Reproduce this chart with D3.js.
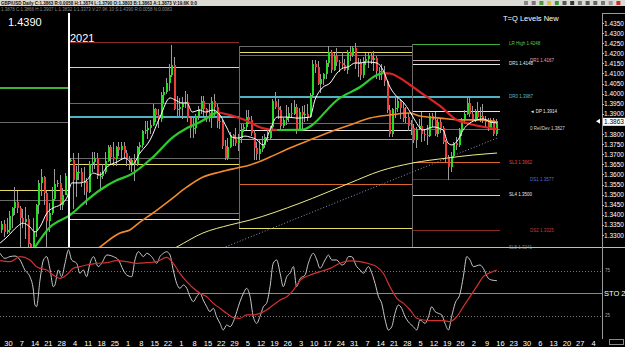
<!DOCTYPE html>
<html>
<head>
<meta charset="utf-8">
<script src="https://cdn.jsdelivr.net/npm/d3@7"></script>
<style>
  html, body { margin: 0; padding: 0; background: #000; overflow: hidden; }
  text { font-family: "Liberation Sans", Arial, sans-serif; }
</style>
</head>
<body>
<svg id="chart" width="625" height="347"></svg>
<script>
// GBP/USD daily. bar index 0 = Mon 30 Nov 2020, the first two bars are 26-27 Nov
var firstOpen = 1.3325;
var closes = [
  1.3355, 1.3315,
  1.3325, 1.3392, 1.3434, 1.3465, 1.3435,
  1.3385, 1.3365, 1.3380, 1.3255, 1.3230,
  1.3320, 1.3450, 1.3560, 1.3585, 1.3510,
  1.3370, 1.3410, 1.3480, 1.3555, 1.3560,
  1.3450, 1.3500, 1.3590, 1.3670, 1.3670,
  1.3570, 1.3610, 1.3610, 1.3560, 1.3565,
  1.3515, 1.3650, 1.3660, 1.3680, 1.3590,
  1.3590, 1.3610, 1.3665, 1.3735, 1.3685,
  1.3675, 1.3735, 1.3720, 1.3740, 1.3705,
  1.3675, 1.3650, 1.3670, 1.3650, 1.3735,
  1.3745, 1.3815, 1.3820, 1.3830, 1.3845,
  1.3925, 1.3895, 1.3875, 1.3995, 1.4010,
  1.4055, 1.4090, 1.4140, 1.3925, 1.3925,
  1.3935, 1.3955, 1.3960, 1.3880, 1.3830,
  1.3830, 1.3890, 1.3925, 1.3965, 1.3925,
  1.3905, 1.3885, 1.3965, 1.3935, 1.3865,
  1.3860, 1.3740, 1.3680, 1.3735, 1.3795,
  1.3775, 1.3755, 1.3780, 1.3825, 1.3835,
  1.3885, 1.3870, 1.3805, 1.3730, 1.3700,
  1.3725, 1.3745, 1.3785, 1.3780, 1.3835,
  1.3965, 1.3935, 1.3920, 1.3840, 1.3870,
  1.3885, 1.3905, 1.3900, 1.3935, 1.3820,
  1.3910, 1.3895, 1.3900, 1.3885, 1.3995,
  1.4145, 1.4130, 1.4050, 1.4075, 1.4095,
  1.4150, 1.4205, 1.4115, 1.4185, 1.4155,
  1.4150, 1.4140, 1.4115, 1.4205, 1.4190,
  1.4225, 1.4145, 1.4150, 1.4090, 1.4160,
  1.4170, 1.4185, 1.4165, 1.4175, 1.4110,
  1.4110, 1.4095, 1.4065, 1.3920, 1.3800,
  1.3925, 1.3930, 1.3965, 1.3930, 1.3880,
  1.3885, 1.3840, 1.3830, 1.3770, 1.3825,
  1.3840, 1.3800, 1.3795, 1.3790, 1.3890,
  1.3870, 1.3800, 1.3860, 1.3830, 1.3760,
  1.3685, 1.3635, 1.3690, 1.3755, 1.3745,
  1.3820, 1.3875, 1.3900, 1.3955, 1.3900,
  1.3870, 1.3910, 1.3885, 1.3890, 1.3875,
  1.3860, 1.3830, 1.3870, 1.3800, 1.3863
];
var highs = [
  1.3370, 1.3375,
  1.3385, 1.3417, 1.3440, 1.3540, 1.3520,
  1.3445, 1.3430, 1.3440, 1.3400, 1.3260,
  1.3385, 1.3455, 1.3570, 1.3625, 1.3590,
  1.3520, 1.3460, 1.3540, 1.3625, 1.3570,
  1.3595, 1.3535, 1.3605, 1.3705, 1.3680,
  1.3705, 1.3640, 1.3705, 1.3630, 1.3635,
  1.3580, 1.3665, 1.3710, 1.3710, 1.3705,
  1.3610, 1.3650, 1.3710, 1.3745, 1.3745,
  1.3760, 1.3740, 1.3760, 1.3760, 1.3760,
  1.3720, 1.3690, 1.3680, 1.3700, 1.3740,
  1.3760, 1.3820, 1.3865, 1.3865, 1.3870,
  1.3950, 1.3930, 1.3925, 1.4010, 1.4035,
  1.4080, 1.4145, 1.4240, 1.4180, 1.3990,
  1.3980, 1.3985, 1.4015, 1.4000, 1.3890,
  1.3880, 1.3900, 1.3940, 1.3990, 1.3990,
  1.3930, 1.3950, 1.3985, 1.4000, 1.3950,
  1.3905, 1.3870, 1.3770, 1.3780, 1.3810,
  1.3800, 1.3830, 1.3800, 1.3850, 1.3850,
  1.3920, 1.3920, 1.3890, 1.3820, 1.3760,
  1.3770, 1.3790, 1.3800, 1.3820, 1.3840,
  1.3975, 1.4010, 1.3975, 1.3940, 1.3880,
  1.3945, 1.3935, 1.3955, 1.3970, 1.3950,
  1.3930, 1.3940, 1.3945, 1.3950, 1.4005,
  1.4165, 1.4165, 1.4160, 1.4095, 1.4100,
  1.4165, 1.4235, 1.4215, 1.4200, 1.4225,
  1.4165, 1.4205, 1.4170, 1.4215, 1.4235,
  1.4235, 1.4250, 1.4175, 1.4170, 1.4180,
  1.4200, 1.4200, 1.4205, 1.4210, 1.4185,
  1.4130, 1.4145, 1.4135, 1.4065, 1.3945,
  1.3930, 1.3985, 1.3985, 1.3975, 1.3960,
  1.3935, 1.3905, 1.3870, 1.3850, 1.3835,
  1.3875, 1.3910, 1.3825, 1.3845, 1.3905,
  1.3905, 1.3910, 1.3875, 1.3880, 1.3840,
  1.3770, 1.3695, 1.3710, 1.3760, 1.3785,
  1.3830, 1.3880, 1.3920, 1.3985, 1.3985,
  1.3940, 1.3925, 1.3960, 1.3935, 1.3950,
  1.3890, 1.3880, 1.3880, 1.3880, 1.3874
];
var lows = [
  1.3310, 1.3290,
  1.3305, 1.3310, 1.3333, 1.3400, 1.3410,
  1.3225, 1.3335, 1.3280, 1.3230, 1.3135,
  1.3220, 1.3290, 1.3405, 1.3495, 1.3450,
  1.3185, 1.3315, 1.3400, 1.3470, 1.3540,
  1.3425, 1.3425, 1.3500, 1.3590, 1.3660,
  1.3430, 1.3490, 1.3570, 1.3540, 1.3500,
  1.3450, 1.3510, 1.3610, 1.3625, 1.3575,
  1.3520, 1.3575, 1.3600, 1.3660, 1.3650,
  1.3640, 1.3640, 1.3690, 1.3670, 1.3680,
  1.3640, 1.3620, 1.3610, 1.3565, 1.3640,
  1.3700, 1.3730, 1.3800, 1.3775, 1.3800,
  1.3840, 1.3860, 1.3830, 1.3860, 1.3950,
  1.4000, 1.4015, 1.4085, 1.3920, 1.3890,
  1.3890, 1.3875, 1.3930, 1.3860, 1.3780,
  1.3780, 1.3800, 1.3870, 1.3900, 1.3880,
  1.3860, 1.3860, 1.3830, 1.3890, 1.3830,
  1.3825, 1.3725, 1.3670, 1.3670, 1.3730,
  1.3740, 1.3740, 1.3715, 1.3755, 1.3810,
  1.3820, 1.3850, 1.3790, 1.3670, 1.3670,
  1.3670, 1.3710, 1.3730, 1.3760, 1.3770,
  1.3825, 1.3925, 1.3875, 1.3820, 1.3830,
  1.3845, 1.3860, 1.3880, 1.3895, 1.3800,
  1.3815, 1.3820, 1.3860, 1.3865, 1.3880,
  1.3980, 1.4100, 1.4045, 1.4005, 1.4045,
  1.4075, 1.4130, 1.4100, 1.4110, 1.4135,
  1.4105, 1.4125, 1.4110, 1.4095, 1.4160,
  1.4180, 1.4120, 1.4085, 1.4070, 1.4080,
  1.4140, 1.4125, 1.4145, 1.4110, 1.4075,
  1.4070, 1.4070, 1.4040, 1.3905, 1.3785,
  1.3785, 1.3880, 1.3910, 1.3875, 1.3860,
  1.3855, 1.3815, 1.3795, 1.3755, 1.3730,
  1.3820, 1.3760, 1.3765, 1.3745, 1.3785,
  1.3835, 1.3790, 1.3785, 1.3805, 1.3750,
  1.3660, 1.3570, 1.3610, 1.3680, 1.3720,
  1.3735, 1.3790, 1.3850, 1.3895, 1.3885,
  1.3865, 1.3860, 1.3870, 1.3860, 1.3855,
  1.3830, 1.3815, 1.3825, 1.3790, 1.3790
];

// moving averages: [bar index, price]
var maFast = [[-2.4,1.3260],[0.2,1.3290],[3.9,1.3340],[6.2,1.3359],[8.8,1.3340],[10.7,1.3315],[12.6,1.3340],[15.2,1.3409],[17.5,1.3434],[20.1,1.3449],[22.8,1.3488],[24.6,1.3558],[27.6,1.3558],[30.3,1.3572],[32.5,1.3607],[35.2,1.3597],[37.8,1.3637],[41.6,1.3662],[44.6,1.3681],[46.4,1.3662],[47.2,1.3647],[50.2,1.3706],[54.0,1.3771],[57.7,1.3884],[61.5,1.3979],[63.4,1.3969],[66.0,1.3954],[67.9,1.3954],[69.8,1.3909],[72.8,1.3919],[74.7,1.3909],[77.7,1.3919],[80.3,1.3894],[82.9,1.3830],[84.8,1.3785],[87.1,1.3780],[89.7,1.3790],[91.6,1.3785],[94.2,1.3771],[96.5,1.3746],[99.1,1.3820],[101.7,1.3884],[105.5,1.3884],[109.3,1.3879],[114.1,1.3884],[116.0,1.3969],[118.7,1.4028],[121.7,1.4053],[124.3,1.4102],[126.6,1.4127],[128.4,1.4132],[131.1,1.4152],[133.0,1.4152],[135.6,1.4157],[139.3,1.4152],[141.6,1.4117],[144.2,1.4033],[146.9,1.3984],[149.1,1.3959],[151.8,1.3909],[153.5,1.3870],[156.6,1.3820],[160.4,1.3835],[164.2,1.3820],[166.0,1.3756],[167.5,1.3746],[169.8,1.3771],[171.7,1.3820],[174.3,1.3855],[176.9,1.3870],[179.2,1.3875],[181.8,1.3860],[184.5,1.3855]];
var maTrend = [[10.0,1.3226],[16.4,1.3340],[23.9,1.3399],[30.3,1.3473],[35.2,1.3523],[41.6,1.3572],[46.4,1.3597],[55.1,1.3686],[62.6,1.3785],[67.9,1.3830],[72.8,1.3860],[79.2,1.3909],[84.1,1.3894],[89.7,1.3870],[96.1,1.3830],[101.7,1.3820],[111.1,1.3822],[125.4,1.3979],[133.0,1.4033],[139.3,1.4092],[141.6,1.4102],[144.2,1.4100],[149.1,1.4068],[151.8,1.4043],[155.5,1.4008],[163.0,1.3939],[169.4,1.3870],[174.3,1.3850],[184.5,1.3825]];
var maSlow = [[33.3,1.3226],[35.2,1.3241],[40.1,1.3290],[42.7,1.3310],[46.4,1.3325],[50.2,1.3364],[55.1,1.3409],[61.5,1.3473],[67.9,1.3538],[73.9,1.3587],[80.3,1.3612],[86.7,1.3632],[91.6,1.3647],[99.1,1.3686],[106.6,1.3731],[114.1,1.3771],[121.7,1.3810],[129.2,1.3845],[136.7,1.3879],[144.2,1.3894],[151.8,1.3904],[155.5,1.3889],[163.0,1.3879],[170.5,1.3870],[178.1,1.3870],[184.5,1.3860]];
var maLong = [[62.0,1.3226],[64.1,1.3241],[73.9,1.3310],[84.1,1.3350],[91.6,1.3374],[110.4,1.3458],[129.2,1.3558],[140.5,1.3617],[152.9,1.3657],[165.6,1.3681],[175.4,1.3696],[184.5,1.3706]];
var trendLine = [[81.4,1.3236],[184.5,1.3780]];

// stochastic %K / %D: [bar index, value]
var stoK = [[-2.4,94.1],[-0.6,88.5],[1.3,90.4],[3.2,91.1],[5.1,86.7],[6.9,75.6],[8.8,68.1],[10.1,53.3],[10.7,36.7],[11.3,34.8],[12.6,64.4],[13.9,86.7],[15.1,90.4],[16.4,75.6],[17.6,57.0],[18.2,58.9],[19.5,75.6],[20.7,68.1],[22.0,83.0],[23.3,97.8],[24.5,86.7],[26.4,83.0],[27.6,71.9],[28.9,75.6],[30.1,68.1],[31.4,83.0],[32.7,90.4],[34.5,79.3],[35.8,83.0],[37.7,92.2],[40.2,90.4],[42.1,86.7],[43.9,75.6],[45.2,70.0],[47.1,68.1],[48.3,86.7],[49.6,95.9],[51.5,90.4],[52.7,94.1],[54.6,90.4],[56.5,83.0],[57.7,90.4],[59.0,94.1],[60.2,95.9],[61.5,92.2],[62.7,75.6],[64.0,60.7],[65.2,55.2],[66.5,58.9],[67.8,55.2],[69.0,45.9],[70.3,40.4],[71.5,45.9],[72.8,49.6],[74.0,42.2],[75.3,34.8],[76.5,29.3],[77.8,33.0],[79.0,23.7],[80.3,16.3],[81.5,8.9],[82.8,14.4],[84.1,12.6],[85.3,18.1],[86.6,29.3],[87.8,40.4],[89.1,49.6],[90.3,55.2],[91.6,45.9],[92.8,23.7],[94.1,16.3],[95.3,23.7],[96.6,34.8],[97.8,38.5],[99.1,57.0],[100.3,83.0],[101.6,86.7],[102.9,71.9],[104.1,57.0],[105.4,68.1],[106.6,71.9],[107.9,79.3],[109.1,57.0],[110.4,66.0],[112.3,70.0],[113.5,83.0],[115.4,94.1],[116.7,86.7],[117.9,77.4],[119.8,86.7],[121.1,92.2],[122.3,86.7],[124.2,86.7],[126.1,81.1],[127.3,83.0],[128.6,90.4],[129.8,90.4],[131.7,79.3],[133.0,75.6],[134.2,71.9],[136.1,79.3],[137.4,71.9],[138.6,60.7],[139.9,45.9],[141.1,38.5],[142.4,20.0],[143.6,8.9],[144.9,12.6],[146.1,27.4],[147.4,36.7],[148.6,33.0],[149.9,23.7],[151.1,18.1],[153.0,12.6],[154.3,8.9],[155.5,20.0],[157.4,16.3],[158.7,23.7],[159.9,34.8],[161.2,29.3],[162.4,27.4],[163.7,25.6],[164.9,16.3],[166.2,8.9],[167.4,23.7],[168.7,38.5],[170.6,49.6],[171.8,68.1],[173.1,90.4],[174.3,86.7],[175.6,79.3],[178.1,81.1],[179.3,77.4],[181.2,66.3],[182.5,64.4],[184.4,63.7]];
var stoD = [[-2.4,85.9],[1.3,84.8],[5.1,90.4],[8.8,86.7],[11.3,79.3],[12.6,77.4],[15.1,75.6],[17.6,70.0],[20.1,66.3],[22.6,70.0],[25.1,77.4],[27.6,79.3],[30.1,81.1],[33.9,83.0],[37.7,83.7],[41.4,85.9],[45.2,84.8],[49.0,83.0],[52.7,83.7],[56.5,84.8],[60.2,89.6],[62.7,83.0],[65.2,71.9],[67.8,62.6],[70.3,55.2],[72.8,49.6],[75.3,45.9],[77.8,38.5],[80.3,33.0],[82.8,27.4],[85.3,22.6],[87.8,21.9],[90.3,25.6],[92.8,25.6],[95.3,27.4],[97.8,31.1],[100.3,36.7],[102.9,42.2],[105.4,45.9],[107.9,53.3],[110.4,64.0],[114.2,70.0],[117.9,73.7],[121.7,77.4],[125.4,83.0],[129.2,85.6],[133.0,84.8],[136.7,82.2],[139.2,79.3],[141.7,71.9],[144.2,57.0],[146.8,44.1],[149.3,38.5],[151.8,31.1],[154.3,21.9],[156.8,20.0],[160.5,19.3],[164.3,19.3],[166.8,18.1],[169.3,23.7],[171.8,34.8],[174.3,45.9],[176.8,57.0],[179.3,68.1],[181.9,72.6],[184.4,75.6]];
var stoLevels = [75, 50, 25];

// quarterly levels (T=Q): [price, role]
var quarterStarts = ["2021-01-01", "2021-04-01", "2021-07-01"];
var q4Levels = [[1.4033,"hi"],[1.3860,"mid"],[1.3523,"r1"],[1.3473,"mid"]];
var q1Levels = [[1.4256,"r2"],[1.4132,"r1"],[1.3954,"mid"],[1.3889,"r0"],[1.3681,"mid"],[1.3652,"r1"],[1.3409,"s3"],[1.3379,"pp"]];
var q2Levels = [[1.4236,"mid"],[1.4206,"r1"],[1.4191,"mid"],[1.3988,"r0"],[1.3855,"mid"],[1.3820,"pp"],[1.3775,"s0"],[1.3553,"s3"],[1.3335,"r1"]];
var q3Levels = [[1.4248,"hi"],[1.4148,"pp"],[1.4167,"pink"],[1.3987,"r0"],[1.3914,"pp"],[1.3827,"mid"],[1.3662,"s3"],[1.3577,"s1"],[1.3500,"r1"],[1.3325,"r2"],[1.3241,"s5"]];
var q3Labels = ["LR High 1.4248","DR1 1.4148","DR1 1.4167","DR0 1.3987","\u25C4 DP 1.3914","0 Rel/Dev 1.3827","SL3 1.3662","DS1 1.3577","SL4 1.3500","DS2 1.3325","SL5 1.3241"];

var weekLabels = ["30","7","14","21","28","4","11","18","25","1","8","15","22","1","8","15","22","29","5","12","19","26","3","10","17","24","31","7","14","21","28","5","12","19","26","2","9","16","23","30","6","13","20","27","4"];
var priceTicks = [1.4350,1.4300,1.4250,1.4200,1.4150,1.4100,1.4050,1.4000,1.3950,1.3900,1.3850,1.3800,1.3750,1.3700,1.3650,1.3600,1.3550,1.3500,1.3450,1.3400,1.3350,1.3300];
var lastPrice = 1.3863;
var titleText = "GBP/USD Daily C:1.3863 R:0.0058 H:1.3874 L:1.3790 O:1.3803 B:1.3863 A:1.3873 V:19.6K 0:0";
var infoText = "1.3878 C:1.3866 H:1.3907 L:1.3832 1:1.3373 V:27.9K 10 S:1.4390 R:0.0058 N:0.0083";

// ---- scales ----
var xS = d3.scaleLinear().domain([0, 220]).range([6.5, 591.5]);
var yS = d3.scaleLinear().domain([1.33, 1.435]).range([235, 23]);
var sS = d3.scaleLinear().domain([0, 100]).range([338, 248]);

var roleColor = { hi: "#3cb43c", r2: "#8c2a2a", r1: "#e6dc64", mid: "#6a6a6a", r0: "#4fb3c4",
  pp: "#e6e6e6", s0: "#b8a45a", s3: "#d8682a", s1: "#2a3c7a", s5: "#555555", pink: "#c8a8b0" };
var labelColor = { hi: "#5fc85f", r2: "#d03838", r1: "#e8e8e8", mid: "#d8d8d8", r0: "#5fb8c8",
  pp: "#e8e8e8", s3: "#e04040", s1: "#5070d8", s5: "#808080", pink: "#e0a8b8" };

function barIndex(s) {
  var start = new Date(2020, 10, 30), end = new Date(s + "T00:00:00"), n = 0;
  for (var d = new Date(start); d < end; d.setDate(d.getDate() + 1)) {
    var w = d.getDay();
    if (w !== 0 && w !== 6) n++;
  }
  return n;
}

var svg = d3.select("#chart");
svg.append("rect").attr("width", 625).attr("height", 347).attr("fill", "#000");

var defs = svg.append("defs");
defs.append("clipPath").attr("id", "mainClip").append("rect")
  .attr("x", 0).attr("y", 13).attr("width", 602).attr("height", 234);
defs.append("clipPath").attr("id", "stoClip").append("rect")
  .attr("x", 0).attr("y", 248).attr("width", 602).attr("height", 90);
defs.append("clipPath").attr("id", "winClip").append("rect")
  .attr("x", 0).attr("y", 0).attr("width", 625).attr("height", 347);

// title bars
svg.append("rect").attr("x", 0).attr("y", 0).attr("width", 625).attr("height", 6).attr("fill", "#dcdad4");
svg.append("text").attr("x", 1).attr("y", 5).attr("font-size", "5px").attr("font-weight", "bold")
  .attr("fill", "#111").attr("textLength", 196).attr("lengthAdjust", "spacingAndGlyphs").text(titleText);
svg.append("text").attr("x", 1).attr("y", 11).attr("font-size", "4.5px").attr("fill", "#8a8a8a")
  .attr("textLength", 171).attr("lengthAdjust", "spacingAndGlyphs").text(infoText);
var iconCols = ["#888", "#777", "#4a9a3a", "#d8c040", "#3a9a3a", "#555", "#333", "#777", "#555", "#666", "#777", "#999", "#cc3322"];
svg.append("g").selectAll("rect").data(iconCols).enter().append("rect")
  .attr("x", function (d, i) { return 524 + i * 7.7; }).attr("y", 1).attr("width", 4).attr("height", 4)
  .attr("fill", function (d) { return d; });

var main = svg.append("g").attr("clip-path", "url(#mainClip)");

// quarterly level segments
var lastIdx = closes.length - 3;
var qEdges = [-3].concat(quarterStarts.map(function (s) { return barIndex(s) - 0.5; }), [lastIdx + 1.5]);
var levelSets = [q4Levels, q1Levels, q2Levels, q3Levels];
var lv = main.append("g").attr("shape-rendering", "crispEdges");
levelSets.forEach(function (set, q) {
  lv.selectAll(null).data(set).enter().append("line")
    .attr("x1", xS(qEdges[q])).attr("x2", xS(qEdges[q + 1]))
    .attr("y1", function (d) { return Math.round(yS(d[0])) + 0.5; })
    .attr("y2", function (d) { return Math.round(yS(d[0])) + 0.5; })
    .attr("stroke", function (d) { return roleColor[d[1]]; })
    .attr("stroke-width", function (d) { return (d[1] === "r0" || (d[1] === "hi" && q === 0)) ? 2 : 1; });
});
// box edges at quarter changes
[2, 3].forEach(function (q) {
  var both = levelSets[q - 1].concat(levelSets[q]).map(function (d) { return d[0]; });
  var xx = Math.round(xS(qEdges[q])) + 0.5;
  lv.append("line").attr("x1", xx).attr("x2", xx)
    .attr("y1", yS(d3.max(levelSets[q], function (d) { return d[0]; })))
    .attr("y2", yS(d3.min(both)))
    .attr("stroke", "#6a6a6a");
});

// dotted trend line
main.append("path").datum(trendLine)
  .attr("d", d3.line().x(function (d) { return xS(d[0]); }).y(function (d) { return yS(d[1]); }))
  .attr("fill", "none").attr("stroke", "#8a9ac0").attr("stroke-width", 1).attr("stroke-dasharray", "1,2");

// candles
var bars = closes.map(function (c, i) {
  return { idx: i - 2, o: i === 0 ? firstOpen : closes[i - 1], h: highs[i], l: lows[i], c: c };
});
var cg = main.append("g").attr("shape-rendering", "crispEdges");
cg.selectAll("line").data(bars).enter().append("line")
  .attr("x1", function (d) { return Math.round(xS(d.idx)) + 0.5; })
  .attr("x2", function (d) { return Math.round(xS(d.idx)) + 0.5; })
  .attr("y1", function (d) { return yS(Math.max(d.h, d.o, d.c)); })
  .attr("y2", function (d) { return yS(Math.min(d.l, d.o, d.c)); })
  .attr("stroke", "#9a9a9a");
cg.selectAll("rect").data(bars).enter().append("rect")
  .attr("x", function (d) { return Math.round(xS(d.idx)); })
  .attr("width", 2)
  .attr("y", function (d) { return yS(Math.max(d.o, d.c)); })
  .attr("height", function (d) { return Math.max(1, Math.abs(yS(d.o) - yS(d.c))); })
  .attr("fill", function (d) { return d.c >= d.o ? "#22dd22" : "#ee3c3c"; });

// moving averages
var priceLine = d3.line().x(function (d) { return xS(d[0]); }).y(function (d) { return yS(d[1]); }).curve(d3.curveMonotoneX);
main.append("path").datum(maLong).attr("d", priceLine).attr("fill", "none").attr("stroke", "#ecec8c").attr("stroke-width", 1);
main.append("path").datum(maSlow).attr("d", priceLine).attr("fill", "none").attr("stroke", "#f08a2a").attr("stroke-width", 1.6);
var runs = [], cur = null;
for (var i = 1; i < maTrend.length; i++) {
  var up = maTrend[i][1] >= maTrend[i - 1][1];
  if (!cur || cur.up !== up) { cur = { up: up, pts: [maTrend[i - 1]] }; runs.push(cur); }
  cur.pts.push(maTrend[i]);
}
main.selectAll(null).data(runs).enter().append("path")
  .attr("d", function (d) { return priceLine(d.pts); })
  .attr("fill", "none").attr("stroke-width", 2.2)
  .attr("stroke", function (d) { return d.up ? "#2ccc2c" : "#dd2424"; });
main.append("path").datum(maFast).attr("d", priceLine).attr("fill", "none").attr("stroke", "#ffffff").attr("stroke-width", 1);

// year separator
main.append("line").attr("x1", 69).attr("x2", 69).attr("y1", 13).attr("y2", 247)
  .attr("stroke", "#ffffff").attr("stroke-width", 2);

// level labels for the running quarter
var q3Col = [0, 0, 1, 0, 1, 1, 0, 1, 0, 1, 0];
svg.append("g").selectAll("text").data(q3Levels).enter().append("text")
  .attr("x", function (d, i) { return q3Col[i] ? 530 : 509; })
  .attr("y", function (d) { return yS(d[0]) + 1.6; })
  .attr("font-size", "4.5px")
  .attr("fill", function (d) { return labelColor[d[1]]; })
  .text(function (d, i) { return q3Labels[i]; });

// big texts
svg.append("text").attr("x", 8).attr("y", 26).attr("font-size", "11px").attr("fill", "#fff").text("1.4390");
svg.append("text").attr("x", 70).attr("y", 42).attr("font-size", "11px").attr("fill", "#fff").text("2021");
svg.append("text").attr("x", 503).attr("y", 21).attr("font-size", "7.5px").attr("fill", "#fff").text("T=Q Levels New");

// panel frame
svg.append("line").attr("x1", 0).attr("x2", 625).attr("y1", 247.5).attr("y2", 247.5).attr("stroke", "#bdbdbd");
svg.append("line").attr("x1", 602).attr("x2", 625).attr("y1", 13.5).attr("y2", 13.5).attr("stroke", "#9a9a9a");
svg.append("line").attr("x1", 602.5).attr("x2", 602.5).attr("y1", 13).attr("y2", 339).attr("stroke", "#9a9a9a");

// price axis
var ax = svg.append("g");
var shown = priceTicks.filter(function (p) { return Math.abs(yS(p) - yS(lastPrice)) > 6; });
ax.selectAll("line").data(shown).enter().append("line")
  .attr("x1", 602).attr("x2", 604)
  .attr("y1", function (d) { return Math.round(yS(d)) + 0.5; })
  .attr("y2", function (d) { return Math.round(yS(d)) + 0.5; })
  .attr("stroke", "#bbb");
ax.selectAll("text").data(shown).enter().append("text")
  .attr("x", 604).attr("y", function (d) { return yS(d) + 2.5; })
  .attr("font-size", "7px").attr("fill", "#fff")
  .attr("textLength", 20).attr("lengthAdjust", "spacingAndGlyphs")
  .text(function (d) { return d.toFixed(4); });
ax.append("rect").attr("x", 603).attr("y", yS(lastPrice) - 3.5).attr("width", 22).attr("height", 8).attr("fill", "#fff");
ax.append("text").attr("x", 604).attr("y", yS(lastPrice) + 3).attr("font-size", "7px").attr("fill", "#000")
  .attr("textLength", 20).attr("lengthAdjust", "spacingAndGlyphs")
  .text(lastPrice.toFixed(4));
ax.append("path").attr("d", "M596," + yS(lastPrice) + "l4,-2.5v5z").attr("fill", "#fff");

// stochastic panel
var sto = svg.append("g");
sto.selectAll("line").data(stoLevels).enter().append("line")
  .attr("x1", 0).attr("x2", 602)
  .attr("y1", function (d) { return Math.round(sS(d)) + 0.5; })
  .attr("y2", function (d) { return Math.round(sS(d)) + 0.5; })
  .attr("stroke", function (d) { return d === 50 ? "#8a8a8a" : "#777"; })
  .attr("stroke-dasharray", function (d) { return d === 50 ? null : "1,2"; });
sto.selectAll("text.lvl").data([75, 25]).enter().append("text").attr("class", "lvl")
  .attr("x", 605).attr("y", function (d) { return sS(d) + 1.5; })
  .attr("font-size", "4.5px").attr("fill", "#aaa").text(function (d) { return d; });
sto.append("text").attr("x", 604).attr("y", sS(50) + 2.7).attr("font-size", "7.5px").attr("fill", "#fff").text("STO 2");
var stoLine = d3.line().x(function (d) { return xS(d[0]); }).y(function (d) { return sS(d[1]); }).curve(d3.curveMonotoneX);
var stoG = sto.append("g").attr("clip-path", "url(#stoClip)");
stoG.append("path").datum(stoK).attr("d", stoLine).attr("fill", "none").attr("stroke", "#c8c8c8").attr("stroke-width", 1);
stoG.append("path").datum(stoD).attr("d", stoLine).attr("fill", "none").attr("stroke", "#d23232").attr("stroke-width", 1.2);

// time axis
svg.append("g").selectAll("text").data(weekLabels).enter().append("text")
  .attr("x", function (d, k) { return xS(k * 5) + 2; }).attr("y", 346)
  .attr("text-anchor", "middle").attr("font-size", "7.5px").attr("fill", "#fff")
  .text(function (d) { return d; });
svg.append("rect").attr("x", 609.5).attr("y", 339.5).attr("width", 14).attr("height", 5)
  .attr("fill", "none").attr("stroke", "#888");
</script>
</body>
</html>
